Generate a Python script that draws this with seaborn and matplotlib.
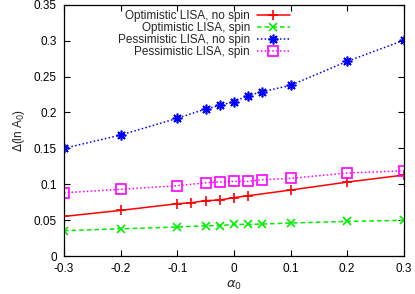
import numpy as np
import pandas as pd
import matplotlib
matplotlib.use("Agg")
import matplotlib.pyplot as plt
import seaborn as sns

sns.set_style("ticks")
plt.rcParams['font.family'] = ['Liberation Sans', 'DejaVu Sans']
plt.rcParams['axes.unicode_minus'] = False
plt.rcParams['mathtext.fontset'] = 'dejavusans'

# data
alpha_opt_nospin = [-0.3, -0.2, -0.1, -0.075, -0.05, -0.025, 0.0, 0.025, 0.1, 0.2, 0.3]
opt_nospin = [0.0552, 0.0636, 0.0729, 0.0743, 0.0771, 0.0780, 0.0813, 0.0840, 0.0919, 0.1030, 0.1128]

alpha = [-0.3, -0.2, -0.1, -0.05, -0.025, 0.0, 0.025, 0.05, 0.1, 0.2, 0.3]
opt_spin = [0.0353, 0.0380, 0.0404, 0.0422, 0.0425, 0.0441, 0.0441, 0.0446, 0.0460, 0.0483, 0.0497]
pess_nospin = [0.1500, 0.1685, 0.1918, 0.2047, 0.2098, 0.2149, 0.2233, 0.2288, 0.2377, 0.2711, 0.3004]
pess_spin = [0.0882, 0.0929, 0.0979, 0.1021, 0.1031, 0.1040, 0.1040, 0.1063, 0.1082, 0.1156, 0.1188]

labels = ["Optimistic LISA, no spin", "Optimistic LISA, spin",
          "Pessimistic LISA, no spin", "Pessimistic LISA, spin"]

fig = plt.figure(figsize=(4.15, 2.94), dpi=100)
ax = fig.add_axes([0.154, 0.129, 0.819, 0.855])

series = [
    (alpha_opt_nospin, opt_nospin, "#ff0000", "-", "+", 7, "#ff0000"),
    (alpha, opt_spin, "#00ee00", (0, (3, 2)), "x", 6, "#00ee00"),
    (alpha, pess_nospin, "#0000ff", (0, (1, 1.5)), (8, 2, 0), 7, "#0000ff"),
    (alpha, pess_spin, "#ff00ff", (0, (1, 1.5)), "s", 7, "none"),
]
for (x, y, c, ls, m, ms, fc), lab in zip(series, labels):
    sns.lineplot(x=x, y=y, ax=ax, color=c, linestyle=ls, marker=m,
                 markersize=ms, markerfacecolor=fc, markeredgecolor=c,
                 markeredgewidth=1.2, linewidth=1.1, label=lab)

fmt = plt.FuncFormatter(lambda v, p: '%g' % round(v, 3))
ax.set_xlim(-0.3, 0.3)
ax.set_ylim(0, 0.35)
ax.set_xticks(np.arange(-0.3, 0.31, 0.1))
ax.set_yticks(np.arange(0, 0.351, 0.05))
ax.xaxis.set_major_formatter(fmt)
ax.yaxis.set_major_formatter(fmt)
ax.tick_params(direction='in', top=True, right=True, length=4, width=0.8,
               labelsize=8.5, pad=5, colors='black')
for s in ax.spines.values():
    s.set_linewidth(0.9)
    s.set_color('black')

ax.set_xlabel(r'$\alpha_0$', fontsize=9.5, labelpad=3)
ax.set_ylabel(r'$\Delta$(ln A$_0$)', fontsize=8.5, labelpad=5)

leg = ax.legend(loc='upper right', bbox_to_anchor=(0.665, 0.98), frameon=False,
                markerfirst=False, fontsize=8.5, labelspacing=0.0, handlelength=2.8,
                handletextpad=0.6, borderpad=0, borderaxespad=0)

fig.savefig("out.png", dpi=100)
